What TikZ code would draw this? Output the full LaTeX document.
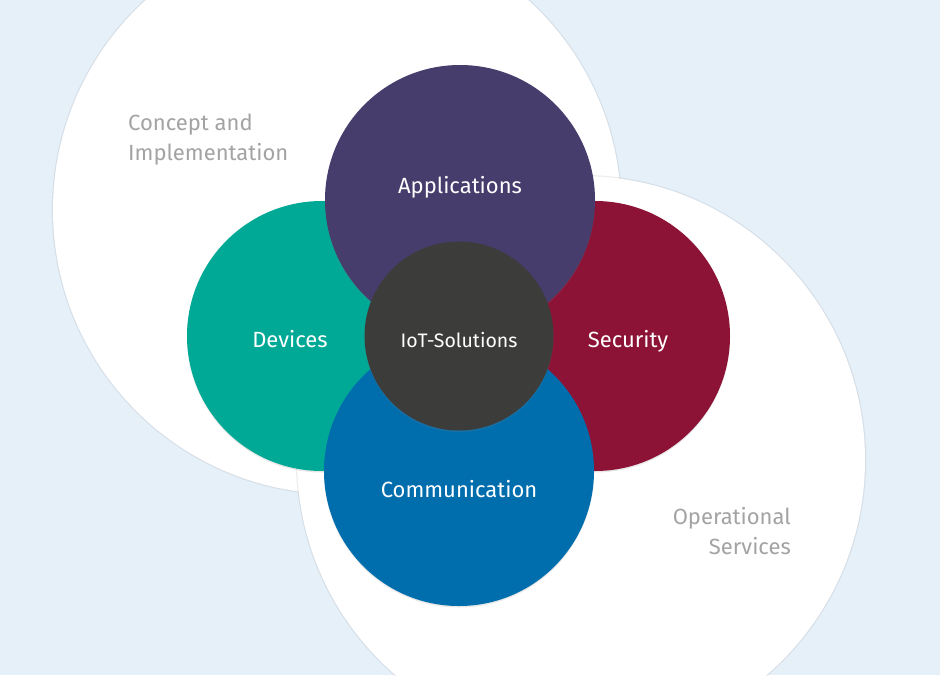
\documentclass[tikz,border=0pt]{standalone}
\usepackage{fontspec}
\setmainfont{Fira Sans}
\usetikzlibrary{shadows}
\definecolor{bg}{HTML}{E6F0F9}
\definecolor{cdev}{HTML}{00A995}
\definecolor{capp}{HTML}{463D6C}
\definecolor{csec}{HTML}{8C1336}
\definecolor{ccom}{HTML}{006DAD}
\definecolor{ciot}{HTML}{3C3C3B}
\definecolor{outertxt}{HTML}{A3A3A3}
\tikzset{
  bigcirc/.style={circle, fill=white, minimum size=568pt, inner sep=0pt,
    drop shadow={shadow xshift=0pt, shadow yshift=0pt, shadow scale=1.004, opacity=0.12, fill=black!60}},
  topic/.style={circle, minimum size=270pt, inner sep=0pt,
    drop shadow={shadow xshift=0pt, shadow yshift=-1.5pt, opacity=0.18}},
  core/.style={circle, fill=ciot, minimum size=189pt, inner sep=0pt,
    drop shadow={shadow xshift=0pt, shadow yshift=-1.5pt, opacity=0.2}},
  lab/.style={text=white, font=\fontsize{22}{26}\selectfont, inner sep=0pt, anchor=base},
  outer/.style={text=outertxt, font=\fontsize{22}{30}\selectfont, inner sep=0pt}
}
\begin{document}
\begin{tikzpicture}[x=1pt,y=-1pt]
\useasboundingbox (0,0) rectangle (940,675);
\fill[bg] (0,0) rectangle (940,675);
\begin{scope}
\clip (0,0) rectangle (940,675);
\node[bigcirc] (concept) at (337,210) {};
\node[bigcirc] (ops) at (581,460) {};
\node[topic, fill=cdev] (dev) at (322,336) {};
\node[topic, fill=csec] (sec) at (595,336) {};
\node[topic, fill=capp] (app) at (460,200) {};
\node[topic, fill=ccom] (com) at (459,471) {};
\node[core] (iot) at (459,336) {};
\end{scope}
\node[lab] (tdev) at (290,347) {Devices};
\node[lab] (tsec) at (628,347) {Security};
\node[lab] (tapp) at (460,193) {Applications};
\node[lab] (tcom) at (459,497) {Communication};
\node[lab, font=\fontsize{19.5}{23}\selectfont] (tiot) at (459,347) {IoT-Solutions};
\node[outer, anchor=north west, align=left] (tconcept) at (128,114) {Concept and\\Implementation};
\node[outer, anchor=north east, align=right] (tops) at (791,507) {Operational\\Services};
\end{tikzpicture}
\end{document}
